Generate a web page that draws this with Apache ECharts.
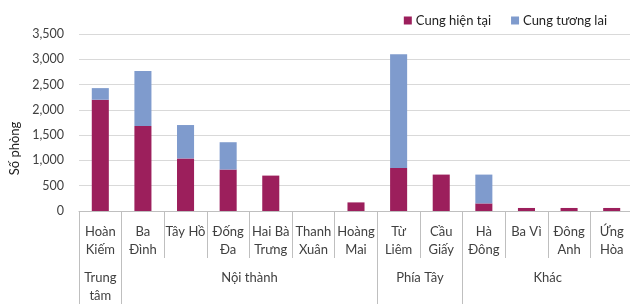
<!DOCTYPE html>
<html>
<head>
<meta charset="utf-8">
<script src="https://cdn.jsdelivr.net/npm/echarts@6/dist/echarts.min.js"></script>
<style>
  html, body { margin: 0; padding: 0; background: #fff; }
  #chart { width: 630px; height: 305px; }
</style>
</head>
<body>
<div id="chart"></div>
<script>
// districts (tick labels) and the group each block of districts belongs to
let districts = ["Hoàn\nKiếm", "Ba\nĐình", "Tây Hồ", "Đống\nĐa", "Hai Bà\nTrưng", "Thanh\nXuân",
  "Hoàng\nMai", "Từ\nLiêm", "Cầu\nGiấy", "Hà\nĐông", "Ba Vì", "Đông\nAnh", "Ứng\nHòa"];
let groupNames = ["Trung\ntâm", "Nội thành", "Phía Tây", "Khác"];
let groupSizes = [1, 6, 2, 4];

let current = [2200, 1680, 1040, 820, 700, 0, 170, 850, 720, 150, 60, 60, 60];
let future = [230, 1090, 660, 540, 0, 0, 0, 2250, 0, 570, 0, 0, 0];

let yTicks = [0, 500, 1000, 1500, 2000, 2500, 3000, 3500];

// group boundaries and centres on a 0..n scale
let bounds = [0];
let centers = [];
for (let i = 0; i < groupSizes.length; i++) {
  let start = bounds[bounds.length - 1];
  bounds.push(start + groupSizes[i]);
  centers.push(start + groupSizes[i] / 2);
}

let font = "Lato";
let txt = "#404040";
let lineCol = "#bfbfbf";

let chart = echarts.init(document.getElementById("chart"), null, { renderer: "canvas" });
chart.setOption({
  animation: false,
  textStyle: { fontFamily: font },
  legend: {
    right: 18,
    top: 9,
    itemWidth: 8,
    itemHeight: 8,
    itemGap: 20,
    icon: "rect",
    textStyle: { fontFamily: font, fontSize: 13, color: "#222", padding: [0, 0, 0, -1] },
    data: ["Cung hiện tại", "Cung tương lai"]
  },
  grid: { left: 79, right: -3, top: 34, bottom: 94, containLabel: false, outerBoundsMode: "none" },
  xAxis: [
    {
      type: "category",
      data: districts,
      axisLine: { show: true, lineStyle: { color: lineCol } },
      axisTick: { show: true, interval: 0, length: 47, lineStyle: { color: lineCol } },
      axisLabel: {
        interval: 0, margin: 12, fontSize: 13, lineHeight: 18,
        color: txt, fontFamily: font
      },
      splitLine: { show: false }
    },
    {
      type: "value",
      min: 0,
      max: districts.length,
      position: "bottom",
      axisLine: { show: false },
      axisTick: { show: true, customValues: bounds, length: 93, lineStyle: { color: lineCol } },
      axisLabel: {
        customValues: centers,
        margin: 58, fontSize: 13, lineHeight: 18, color: txt, fontFamily: font,
        formatter: function (v) {
          let i = centers.indexOf(v);
          return i >= 0 ? groupNames[i] : "";
        }
      },
      splitLine: { show: false }
    }
  ],
  yAxis: {
    type: "value",
    min: yTicks[0],
    max: yTicks[yTicks.length - 1],
    interval: 500,
    name: "Số phòng",
    nameLocation: "middle",
    nameGap: 57,
    nameRotate: 90,
    nameTextStyle: { fontSize: 13, color: "#222", fontFamily: font, padding: [0, 52, 0, 0] },
    axisLine: { show: false },
    axisTick: { show: false },
    axisLabel: {
      margin: 15, fontSize: 12.5, color: txt, fontFamily: font,
      formatter: function (v) { return v.toLocaleString("en-US"); }
    },
    splitLine: { lineStyle: { color: "#d9d9d9" } }
  },
  series: [
    {
      name: "Cung hiện tại",
      type: "bar",
      stack: "cung",
      barWidth: "40%",
      itemStyle: { color: "#9c1f5c" },
      data: current
    },
    {
      name: "Cung tương lai",
      type: "bar",
      stack: "cung",
      barWidth: "40%",
      itemStyle: { color: "#7f9bcd" },
      data: future
    }
  ]
});
</script>
</body>
</html>
